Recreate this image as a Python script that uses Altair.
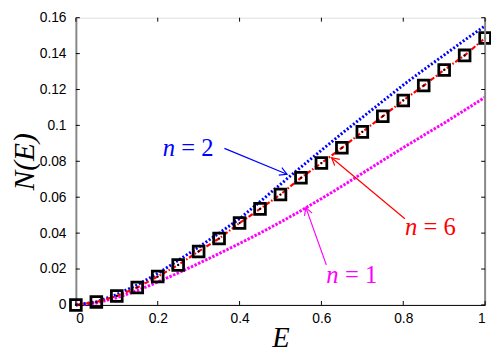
import math
import altair as alt
import pandas as pd

# ---- data ----
E = [0.0, 0.05, 0.1, 0.15, 0.2, 0.25, 0.3, 0.35, 0.4, 0.45, 0.5,
     0.55, 0.6, 0.65, 0.7, 0.75, 0.8, 0.85, 0.9, 0.95, 1.0]
exact = [0.0, 0.0016, 0.0050, 0.0097, 0.0158, 0.0223, 0.0298, 0.0370, 0.0456, 0.0535, 0.0615,
         0.0708, 0.0790, 0.0875, 0.0964, 0.1051, 0.1139, 0.1222, 0.1309, 0.1390, 0.1487]
n6 = [0.0, 0.0016, 0.0050, 0.0097, 0.0158, 0.0223, 0.0298, 0.0370, 0.0456, 0.0535, 0.0615,
      0.0708, 0.0790, 0.0875, 0.0964, 0.1051, 0.1139, 0.1222, 0.1309, 0.1390, 0.1487]
n2 = [0.0, 0.0017, 0.0058, 0.0112, 0.0175, 0.0248, 0.0322, 0.0400, 0.0480, 0.0575, 0.0672,
      0.0768, 0.0862, 0.0955, 0.1045, 0.1135, 0.1225, 0.1310, 0.1392, 0.1475, 0.1555]
n1 = [0.0, 0.0011, 0.0040, 0.0080, 0.0127, 0.0178, 0.0231, 0.0286, 0.0342, 0.0400, 0.0461,
      0.0525, 0.0592, 0.0661, 0.0733, 0.0805, 0.0876, 0.0945, 0.1013, 0.1085, 0.1157]

x_ticks = [0, 0.2, 0.4, 0.6, 0.8, 1.0]
y_ticks = [0, 0.02, 0.04, 0.06, 0.08, 0.1, 0.12, 0.14, 0.16]

# annotations: label text, colors, text position (left, y), arrow tail and tip
ann_var = ["n", "n", "n"]
ann_rest = ["= 2", "= 6", "= 1"]
ann_color = ["#0000ff", "#ff0000", "#ff00ff"]
ann_left = [0.212, 0.804, 0.612]
ann_y = [0.0872, 0.0436, 0.0165]
arr_x = [0.363, 0.804, 0.612]
arr_y = [0.0872, 0.0480, 0.0223]
tip_x = [0.516, 0.625, 0.562]
tip_y = [0.0728, 0.0820, 0.0542]

W, H = 416, 292
XMAX, YMAX = 1.0, 0.16

xs = alt.Scale(domain=[0, XMAX], nice=False)
ys = alt.Scale(domain=[0, YMAX], nice=False)

curves = pd.DataFrame({"E": E, "exact": exact, "n6": n6, "n2": n2, "n1": n1})

x_axis = alt.Axis(values=x_ticks, format="~g", ticks=False, grid=False,
                  labelFont="Liberation Sans", labelFontSize=14, labelColor="black",
                  labelPadding=7, domainColor="black", domainWidth=1,
                  title="E", titleFont="Liberation Serif", titleFontStyle="italic",
                  titleFontWeight="normal", titleFontSize=29, titleColor="black",
                  titlePadding=-2)
y_axis = alt.Axis(values=y_ticks, format="~g", ticks=False, grid=False,
                  labelFont="Liberation Sans", labelFontSize=14, labelColor="black",
                  labelPadding=10, domainColor="#888888", domainWidth=2,
                  title="N(E)", titleFont="Liberation Serif", titleFontStyle="italic",
                  titleFontWeight="normal", titleFontSize=30, titleColor="black",
                  titlePadding=0)


def X(field):
    return alt.X(field, scale=xs, axis=x_axis)


def Y(field):
    return alt.Y(field, scale=ys, axis=y_axis)


base = alt.Chart(curves)

magenta = base.mark_line(color="#ff00ff", strokeWidth=3, strokeDash=[2.5, 1.5]).encode(
    x=X("E:Q"), y=Y("n1:Q"))
blue = base.mark_line(color="#0000ff", strokeWidth=3, strokeDash=[2, 2]).encode(
    x=X("E:Q"), y=Y("n2:Q"))
red = base.mark_line(color="#ff0000", strokeWidth=2.2, strokeDash=[5, 2, 1.5, 2]).encode(
    x=X("E:Q"), y=Y("n6:Q"))
squares = base.mark_point(shape="square", filled=False, size=120, strokeWidth=2.8,
                          color="black", opacity=1).encode(x=X("E:Q"), y=Y("exact:Q"))
dots = base.mark_point(shape="circle", filled=True, size=5, color="black",
                       opacity=1).encode(x=X("E:Q"), y=Y("exact:Q"))

# frame pieces and inward ticks
right_edge = alt.Chart(pd.DataFrame({"E": [XMAX]})).mark_rule(
    color="#888888", strokeWidth=2).encode(x=X("E:Q"))
xt = alt.Chart(pd.DataFrame({"E": x_ticks}))
yt = alt.Chart(pd.DataFrame({"v": y_ticks}))
tick_bottom = xt.mark_rule(color="black", strokeWidth=1).encode(
    x=X("E:Q"), y=alt.value(H), y2=alt.value(H - 4))
tick_top = xt.mark_rule(color="black", strokeWidth=1).encode(
    x=X("E:Q"), y=alt.value(0), y2=alt.value(4))
tick_left = yt.mark_rule(color="black", strokeWidth=1).encode(
    y=Y("v:Q"), x=alt.value(0), x2=alt.value(4))
tick_right = yt.mark_rule(color="black", strokeWidth=1).encode(
    y=Y("v:Q"), x=alt.value(W - 4), x2=alt.value(W))

# annotations
angles = []
for ax, ay, tx, ty in zip(arr_x, arr_y, tip_x, tip_y):
    dx = (tx - ax) / XMAX * W
    dy = -(ty - ay) / YMAX * H
    angles.append(math.degrees(math.atan2(dy, dx)) % 360)

ann = pd.DataFrame({
    "var": ann_var, "rest": ann_rest, "col": ann_color,
    "left": ann_left, "y": ann_y,
    "ax": arr_x, "ay": arr_y, "tx": tip_x, "ty": tip_y, "ang": angles,
})
ac = alt.Chart(ann)
arrows = ac.mark_rule(strokeWidth=1.2).encode(
    x=X("ax:Q"), y=Y("ay:Q"), x2="tx:Q", y2="ty:Q",
    color=alt.Color("col:N", scale=None),
)
heads = ac.mark_point(shape="M -1 -0.55 L 0 0 L -1 0.55", filled=False, size=220,
                      strokeWidth=1.2, opacity=1).encode(
    x=X("tx:Q"), y=Y("ty:Q"),
    angle=alt.Angle("ang:Q", scale=None), color=alt.Color("col:N", scale=None),
)
lab_var = ac.mark_text(align="left", baseline="middle", font="Liberation Serif",
                       fontStyle="italic", fontSize=25).encode(
    x=X("left:Q"), y=Y("y:Q"), text="var:N", color=alt.Color("col:N", scale=None),
)
lab_rest = ac.mark_text(align="left", baseline="middle", font="Liberation Serif",
                        fontSize=25, dx=19).encode(
    x=X("left:Q"), y=Y("y:Q"), text="rest:N", color=alt.Color("col:N", scale=None),
)

chart = alt.layer(
    magenta, blue, red, squares, dots, right_edge,
    tick_bottom, tick_top, tick_left, tick_right,
    arrows, heads, lab_var, lab_rest,
).properties(
    width=W, height=H,
    autosize=alt.AutoSizeParams(type="none"),
    padding={"left": 69, "top": 7, "right": 6, "bottom": 45},
).configure_view(stroke="black", strokeWidth=1).configure(background="white")

chart.save("out.html", embed_options={"renderer": "svg", "actions": False})
